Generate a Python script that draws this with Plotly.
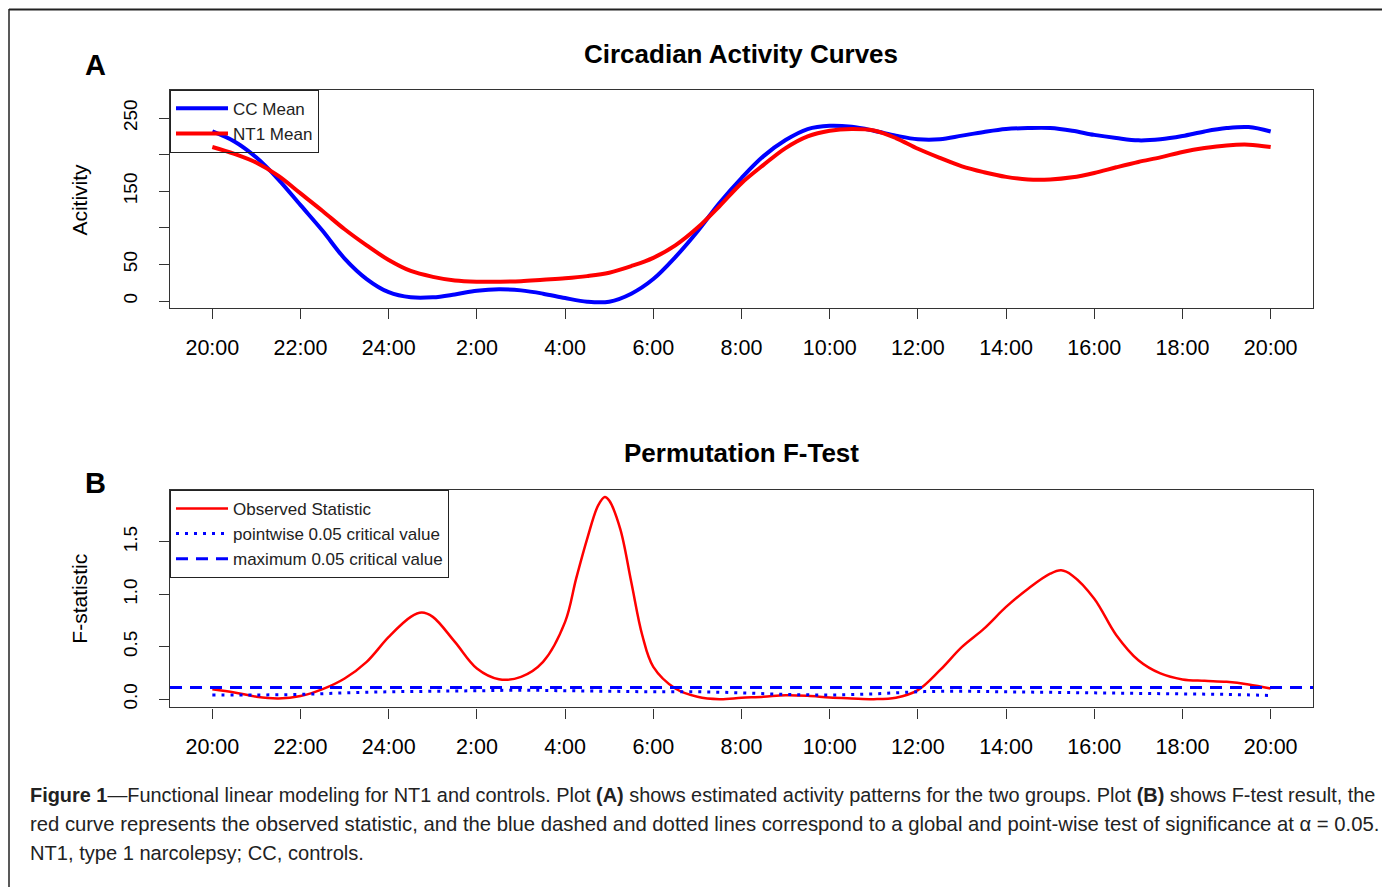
import plotly.graph_objects as go

# page offset of the plot div (browser default body margin)
OFF = 8
W, H = 1390 - OFF, 889 - OFF

# ---------------- data ----------------
hours_a = [0, 0.5, 1, 1.5, 2, 2.5, 3, 3.5, 4, 4.5, 5, 5.5, 6, 6.5, 7, 7.5, 8, 8.5,
           9, 9.5, 10, 10.5, 11, 11.5, 12, 12.5, 13, 13.5, 14, 14.5, 15, 15.5, 16,
           16.5, 17, 17.5, 18, 18.5, 19, 19.5, 20, 20.5, 21, 21.5, 22, 22.5, 23, 23.5, 24]

cc_mean = [231.7, 218, 196, 166, 131, 96, 58, 30, 12, 5, 5, 9, 14, 16, 14.5, 10, 4, -1,
           -1, 10, 30, 60, 95, 134, 168, 198, 220, 235, 239.5, 238, 232.7, 226, 221,
           221, 226, 231, 235, 236.3, 236.3, 232.7, 227, 222.7, 219.5, 221, 225.5, 231.7,
           236.3, 237.7, 231.7]

nt1_mean = [210.4, 201, 189, 171, 147, 123, 98, 76, 56, 41, 33, 28, 26.4, 26.4, 27, 29, 31, 34,
            38.7, 47.7, 59, 76, 100, 129.5, 161, 186, 209, 225, 232.7, 235, 233, 222.7, 208,
            195.5, 184, 176, 169.6, 166, 166, 169, 175, 182.7, 190, 196.3, 203.6, 209,
            212.6, 213.6, 210.4]

hours_f = [0, 0.5, 1, 1.5, 2, 2.5, 3, 3.5, 4, 4.5, 4.75, 5, 5.5, 6, 6.5, 7, 7.5, 8, 8.25,
           8.5, 8.75, 8.9, 9, 9.25, 9.5, 9.75, 10, 10.5, 11, 11.5, 12, 12.5, 13, 13.5, 14,
           14.5, 15, 15.5, 16, 16.5, 17, 17.5, 18, 18.5, 19, 19.25, 19.5, 20, 20.5, 21,
           21.5, 22, 22.5, 23, 23.5, 24]

f_observed = [0.095, 0.064, 0.023, 0.007, 0.029, 0.095, 0.197, 0.356, 0.594, 0.785, 0.826,
              0.785, 0.546, 0.292, 0.19, 0.213, 0.356, 0.737, 1.15, 1.53, 1.85, 1.93, 1.895,
              1.625, 1.118, 0.61, 0.308, 0.102, 0.023, 0.0, 0.013, 0.023, 0.038, 0.032,
              0.016, 0.007, 0.0, 0.013, 0.086, 0.276, 0.499, 0.673, 0.88, 1.054, 1.197,
              1.229, 1.181, 0.959, 0.61, 0.371, 0.245, 0.188, 0.175, 0.165, 0.14, 0.102]

hours_crit = [0, 1, 2, 3, 4, 5, 6, 7, 8, 9, 10, 11, 12, 13, 14, 15, 16, 17, 18, 19, 20,
              21, 22, 23, 24]
pointwise_crit = [0.04, 0.04, 0.045, 0.06, 0.07, 0.075, 0.08, 0.085, 0.08, 0.075, 0.07,
                  0.07, 0.06, 0.045, 0.04, 0.05, 0.07, 0.075, 0.07, 0.065, 0.06, 0.055,
                  0.05, 0.045, 0.035]
max_crit = 0.111

tick_hours = [0, 2, 4, 6, 8, 10, 12, 14, 16, 18, 20, 22, 24]
tick_labels = ["20:00", "22:00", "24:00", "2:00", "4:00", "6:00", "8:00", "10:00",
               "12:00", "14:00", "16:00", "18:00", "20:00"]
ytick_a = [0, 50, 100, 150, 200, 250]
ytick_a_labels = ["0", "50", "", "150", "", "250"]
ytick_b = [0, 0.5, 1.0, 1.5]
ytick_b_labels = ["0.0", "0.5", "1.0", "1.5"]

x_range = [-0.96, 24.96]

# ---------------- figure ----------------
BLUE = "#0000FF"
RED = "#FF0000"
FONT = "Liberation Sans, Arial, sans-serif"

fig = go.Figure()

fig.add_trace(go.Scatter(x=hours_a, y=cc_mean, mode="lines", name="CC Mean",
                         line=dict(color=BLUE, width=4, shape="spline"),
                         xaxis="x", yaxis="y", legend="legend"))
fig.add_trace(go.Scatter(x=hours_a, y=nt1_mean, mode="lines", name="NT1 Mean",
                         line=dict(color=RED, width=4, shape="spline"),
                         xaxis="x", yaxis="y", legend="legend"))

fig.add_trace(go.Scatter(x=hours_f, y=f_observed, mode="lines", name="Observed Statistic",
                         line=dict(color=RED, width=2.5, shape="spline"),
                         xaxis="x2", yaxis="y2", legend="legend2"))
fig.add_trace(go.Scatter(x=hours_crit, y=pointwise_crit, mode="lines",
                         name="pointwise 0.05 critical value",
                         line=dict(color=BLUE, width=3, dash="3px,6px", shape="spline"),
                         xaxis="x2", yaxis="y2", legend="legend2"))
fig.add_trace(go.Scatter(x=x_range, y=[max_crit, max_crit], mode="lines",
                         name="maximum 0.05 critical value",
                         line=dict(color=BLUE, width=3, dash="12px,8px"),
                         xaxis="x2", yaxis="y2", legend="legend2"))


def px_x(p):
    return (p - OFF) / W


def px_y(p):
    return 1 - (p - OFF) / H


axis_common = dict(showline=True, mirror=True, linecolor="#333333", linewidth=1.3,
                   ticks="outside", ticklen=10, tickcolor="#333333", tickwidth=1,
                   showgrid=False, zeroline=False, color="black")

xdom = [px_x(170), px_x(1313)]

fig.update_layout(
    width=W, height=H,
    margin=dict(l=0, r=0, t=0, b=0),
    paper_bgcolor="white", plot_bgcolor="white",
    font=dict(family=FONT, color="black"),
    xaxis=dict(domain=xdom, anchor="y", range=x_range, tickvals=tick_hours,
               ticktext=tick_labels, tickfont=dict(size=21.5), ticklabelstandoff=10,
               **axis_common),
    yaxis=dict(domain=[px_y(309), px_y(90)], anchor="x", range=[-10, 288.6],
               tickvals=ytick_a, ticktext=ytick_a_labels, tickangle=-90,
               tickfont=dict(size=19), ticklabelstandoff=14, **axis_common),
    xaxis2=dict(domain=xdom, anchor="y2", range=x_range, tickvals=tick_hours,
                ticktext=tick_labels, tickfont=dict(size=21.5), ticklabelstandoff=10,
                **axis_common),
    yaxis2=dict(domain=[px_y(709), px_y(491)], anchor="x2", range=[-0.079, 1.997],
                tickvals=ytick_b, ticktext=ytick_b_labels, tickangle=-90,
                tickfont=dict(size=19), ticklabelstandoff=14, **axis_common),
    legend=dict(x=px_x(170), y=px_y(90), xanchor="left", yanchor="top",
                bgcolor="rgba(0,0,0,0)", bordercolor="#222", borderwidth=1,
                font=dict(size=17, color="#222"), itemwidth=52, tracegroupgap=0),
    legend2=dict(x=px_x(170), y=px_y(491), xanchor="left", yanchor="top",
                 bgcolor="rgba(0,0,0,0)", bordercolor="#222", borderwidth=1,
                 font=dict(size=17, color="#222"), itemwidth=52, tracegroupgap=0),
    showlegend=True,
)

annotations = [
    dict(text="<b>Circadian Activity Curves</b>", x=px_x(741), y=px_y(54),
         font=dict(size=26, family=FONT)),
    dict(text="<b>Permutation F-Test</b>", x=px_x(741), y=px_y(454),
         font=dict(size=26, family=FONT)),
    dict(text="Acitivity", x=px_x(80), y=px_y(200), textangle=-90,
         font=dict(size=21, family=FONT)),
    dict(text="F-statistic", x=px_x(80), y=px_y(600), textangle=-90,
         font=dict(size=21, family=FONT)),
    dict(text="<b>A</b>", x=px_x(96), y=px_y(65), font=dict(size=29, family=FONT)),
    dict(text="<b>B</b>", x=px_x(96), y=px_y(484), font=dict(size=29, family=FONT)),
]
caption_lines = [
    "<b>Figure 1</b>—Functional linear modeling for NT1 and controls. Plot <b>(A)</b> shows "
    "estimated activity patterns for the two groups. Plot <b>(B)</b> shows F-test result, the",
    "red curve represents the observed statistic, and the blue dashed and dotted lines "
    "correspond to a global and point-wise test of significance at α = 0.05.",
    "NT1, type 1 narcolepsy; CC, controls.",
]
caption_sizes = [19.9, 20.3, 20.1]
for i, line in enumerate(caption_lines):
    annotations.append(dict(text=line, x=px_x(28), y=px_y(797 + 29 * i), xanchor="left",
                            font=dict(size=caption_sizes[i], family=FONT, color="#222")))
for a in annotations:
    a.setdefault("xanchor", "center")
    a.update(xref="paper", yref="paper", yanchor="middle", showarrow=False)
fig.update_layout(annotations=annotations)

fig.update_layout(shapes=[
    dict(type="line", xref="paper", yref="paper", x0=px_x(9), x1=1, y0=px_y(9.5), y1=px_y(9.5),
         line=dict(color="#222", width=2)),
    dict(type="line", xref="paper", yref="paper", x0=px_x(9), x1=px_x(9), y0=px_y(9), y1=0,
         line=dict(color="#222", width=1.5)),
])

fig.write_html("out.html")
